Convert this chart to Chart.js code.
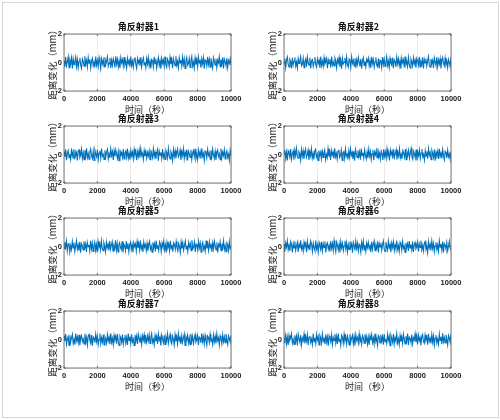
<!DOCTYPE html>
<html><head><meta charset="utf-8">
<script src="https://cdn.jsdelivr.net/npm/chart.js@4/dist/chart.umd.min.js"></script>
<style>
html,body{margin:0;padding:0;background:#fff;}
body{width:500px;height:420px;position:relative;overflow:hidden;}
canvas{position:absolute;}
#frame{position:absolute;left:2px;top:2px;width:495px;height:414px;border:1px solid #d6d6d6;}
</style></head>
<body><div id="frame"></div>
<script>
// ---- data ----
const seriesTitles = ['角反射器1','角反射器2','角反射器3','角反射器4','角反射器5','角反射器6','角反射器7','角反射器8'];
const xAxisTitle = '时间（秒）';
const yAxisTitle = '距离变化（mm）';
const xTickValues = [0,2000,4000,6000,8000,10000];
const yTickValues = [-2,0,2];
const durationSeconds = 10000;

const reflector1 = [0.12,-0.31,0.38,-0.22,0.05,0.41,-0.36,0.18,-0.08,0.33,-0.41,0.27,-0.15,0.02,0.39,-0.29,0.21,-0.37,0.09,0.31,-0.18,-0.42,0.25,0.07,-0.26,0.44,-0.12,0.16,-0.33,0.36,-0.05,0.22,-0.39,0.11,0.29,-0.24,0.03,-0.35,0.42,-0.19,0.14,-0.28,0.35,0.01,-0.43,0.26,-0.09,0.19,-0.32,0.37,-0.14,0.08,0.40,-0.27,-0.06,0.32,-0.38,0.17,-0.21,0.28,0.04,-0.34,0.43,-0.11,0.23,-0.30,0.13,-0.40,0.34,-0.02,0.20,-0.25,0.39,-0.16,0.06,-0.37,0.30,-0.07,0.15,-0.29,0.41,-0.20,0.10,-0.33,0.24,0.36,-0.13,-0.41,0.27,-0.04,0.18,-0.23,0.38,-0.31,0.09,0.33,-0.17,0.02,-0.36,0.29,-0.10,
  0.34,-0.26,0.08,-0.41,0.22,0.15,-0.32,0.40,-0.09,0.27,-0.38,0.03,0.36,-0.21,0.12,-0.44,0.30,-0.06,0.19,-0.28,0.41,-0.15,-0.35,0.24,0.06,-0.30,0.37,-0.11,0.20,-0.40,0.28,0.01,-0.23,0.43,-0.18,0.09,-0.36,0.32,-0.04,0.17,-0.27,0.39,-0.13,0.25,-0.42,0.11,0.35,-0.20,-0.07,0.29,-0.34,0.14,0.42,-0.24,0.05,-0.39,0.31,-0.16,0.21,-0.30,0.38,-0.02,0.13,-0.37,0.26,-0.10,0.33,-0.43,0.18,0.07,-0.25,0.40,-0.14,0.23,-0.33,0.30,-0.08,-0.40,0.35,0.10,-0.19,0.27,-0.36,0.16,-0.03,0.41,-0.29,0.20,-0.12,0.37,-0.41,0.24,0.04,-0.22,0.32,-0.35,0.13,-0.06,0.28,-0.18];
const reflector2 = [-0.08,0.27,-0.35,0.19,0.40,-0.14,-0.31,0.22,0.06,-0.42,0.33,-0.18,0.11,0.37,-0.26,0.04,-0.39,0.29,-0.07,0.16,0.43,-0.23,-0.12,0.31,-0.36,0.08,0.25,-0.30,0.38,-0.02,-0.19,0.34,-0.41,0.13,0.21,-0.28,0.02,0.39,-0.15,-0.33,0.26,-0.05,0.17,-0.38,0.42,-0.21,0.10,-0.27,0.35,-0.11,0.07,0.30,-0.40,0.18,-0.09,0.24,-0.34,0.41,-0.17,0.05,-0.25,0.32,0.12,-0.37,0.20,-0.03,0.36,-0.29,0.14,-0.43,0.28,-0.10,0.01,0.33,-0.22,0.39,-0.16,-0.32,0.23,0.09,-0.35,0.40,-0.06,0.15,-0.24,0.30,-0.39,0.19,-0.13,0.37,0.03,-0.28,0.26,-0.41,0.11,0.34,-0.20,0.08,-0.31,0.22,0.05,
  0.31,-0.24,0.13,-0.38,0.40,-0.07,0.22,-0.33,0.05,0.36,-0.19,-0.29,0.27,-0.42,0.16,0.09,-0.35,0.39,-0.13,0.24,-0.27,0.02,0.43,-0.21,0.11,-0.36,0.30,-0.05,-0.18,0.35,-0.40,0.19,0.07,-0.31,0.38,-0.10,0.26,-0.23,0.14,-0.43,0.32,-0.02,0.20,-0.34,0.41,-0.15,0.08,-0.28,0.37,-0.12,-0.39,0.23,0.04,-0.26,0.34,-0.09,0.17,-0.37,0.29,0.12,-0.20,0.40,-0.31,0.06,-0.14,0.36,-0.41,0.21,-0.04,0.28,-0.25,0.10,0.42,-0.17,-0.33,0.25,-0.08,0.15,-0.38,0.33,0.03,-0.22,0.39,-0.30,0.18,-0.11,0.27,-0.42,0.14,0.35,-0.06,-0.24,0.31,-0.16,0.09,-0.35,0.22,0.01,-0.28,0.37];
const reflector3 = [0.21,-0.17,0.36,-0.40,0.09,0.28,-0.23,0.02,-0.34,0.41,-0.11,0.19,-0.30,0.35,-0.06,0.14,-0.42,0.25,0.32,-0.20,-0.04,0.38,-0.27,0.12,-0.36,0.29,-0.13,0.44,-0.22,0.07,-0.33,0.18,0.39,-0.09,-0.28,0.23,-0.41,0.31,0.04,-0.16,0.34,-0.37,0.10,0.26,-0.25,0.42,-0.12,0.01,-0.35,0.30,-0.19,0.16,0.37,-0.31,0.06,-0.24,0.40,-0.08,0.20,-0.39,0.27,-0.14,0.33,0.03,-0.29,0.22,-0.43,0.35,-0.05,0.13,-0.21,0.38,-0.32,0.11,0.24,-0.18,0.41,-0.26,0.08,-0.37,0.29,-0.10,0.17,-0.30,0.36,-0.02,0.25,-0.40,0.19,-0.15,0.32,-0.23,0.43,-0.07,0.10,-0.34,0.28,-0.12,0.21,-0.27,0.15,
  -0.11,0.26,-0.37,0.33,0.02,-0.22,0.40,-0.15,0.18,-0.31,0.10,0.36,-0.43,0.24,-0.05,0.15,-0.28,0.39,-0.19,0.07,-0.35,0.29,0.13,-0.24,0.42,-0.09,-0.32,0.21,0.04,-0.40,0.34,-0.14,0.27,-0.26,0.11,0.38,-0.18,-0.03,0.31,-0.38,0.19,-0.08,0.41,-0.29,0.16,-0.12,0.35,-0.42,0.23,0.06,-0.21,0.33,-0.34,0.09,0.28,-0.16,0.40,-0.27,0.01,-0.37,0.30,-0.10,0.20,-0.30,0.44,-0.13,0.08,-0.41,0.25,0.17,-0.23,0.36,-0.06,0.12,-0.33,0.29,-0.19,0.39,-0.02,-0.28,0.22,-0.39,0.14,0.32,-0.15,0.05,-0.36,0.41,-0.24,0.18,-0.07,0.34,-0.31,0.11,0.26,-0.20,0.03,-0.42,0.30,-0.09];
const reflector4 = [0.05,0.33,-0.29,0.17,-0.41,0.26,0.10,-0.19,0.38,-0.33,0.02,0.24,-0.37,0.31,-0.08,0.42,-0.15,-0.26,0.20,0.07,-0.40,0.35,-0.12,0.27,-0.31,0.14,0.39,-0.21,-0.03,0.30,-0.38,0.19,-0.10,0.41,-0.25,0.08,-0.34,0.23,0.36,-0.17,0.04,-0.42,0.28,-0.07,0.15,-0.30,0.37,-0.20,0.11,0.32,-0.36,0.01,-0.24,0.40,-0.13,0.22,-0.39,0.29,-0.05,0.18,-0.27,0.43,-0.16,0.09,-0.33,0.25,0.34,-0.22,-0.08,0.31,-0.41,0.13,0.21,-0.28,0.38,-0.11,0.03,-0.35,0.27,-0.18,0.40,-0.06,0.16,-0.32,0.24,-0.43,0.35,0.06,-0.21,0.30,-0.14,0.19,-0.37,0.42,-0.09,0.12,-0.26,0.33,-0.02,-0.30,0.18,
  -0.25,0.38,-0.12,0.21,-0.36,0.06,0.33,-0.40,0.17,-0.03,0.29,-0.22,0.42,-0.17,0.10,-0.33,0.25,0.04,-0.38,0.36,-0.14,0.19,-0.27,0.40,-0.08,0.13,-0.42,0.31,-0.01,0.23,-0.29,0.37,-0.20,0.07,0.34,-0.35,0.15,-0.11,0.41,-0.24,0.02,-0.31,0.28,0.12,-0.19,0.39,-0.37,0.20,-0.06,0.30,-0.26,0.09,0.43,-0.15,-0.34,0.24,0.05,-0.23,0.35,-0.41,0.16,-0.09,0.32,-0.28,0.11,0.38,-0.18,0.01,-0.39,0.27,-0.12,0.22,-0.30,0.41,-0.05,0.14,-0.36,0.29,0.08,-0.21,0.34,-0.43,0.18,-0.02,0.26,-0.32,0.40,-0.13,0.10,-0.27,0.36,-0.08,-0.37,0.23,0.15,-0.25,0.31,-0.16,0.05,-0.34,0.21];
const reflector5 = [-0.14,0.30,-0.06,0.39,-0.32,0.15,0.24,-0.40,0.08,-0.21,0.36,-0.11,0.27,-0.35,0.03,0.42,-0.18,0.12,-0.29,0.33,-0.43,0.21,0.06,-0.24,0.37,-0.09,0.18,-0.38,0.29,-0.02,0.11,-0.31,0.40,-0.16,0.25,-0.34,0.07,0.32,-0.27,0.14,-0.41,0.35,-0.04,0.20,-0.23,0.41,-0.12,-0.30,0.26,0.01,-0.37,0.31,-0.08,0.16,-0.28,0.38,-0.19,0.10,0.34,-0.33,0.05,-0.15,0.43,-0.26,0.22,-0.39,0.13,0.28,-0.07,-0.22,0.36,-0.42,0.17,0.04,-0.30,0.39,-0.13,0.23,-0.36,0.09,0.30,-0.20,0.14,-0.40,0.27,-0.01,0.19,-0.32,0.35,-0.10,0.24,-0.25,0.41,-0.17,0.06,-0.38,0.31,-0.05,0.15,-0.28,0.22,
  -0.31,0.12,0.37,-0.19,0.03,-0.40,0.29,-0.08,0.20,-0.34,0.42,-0.14,0.09,-0.27,0.33,0.16,-0.36,0.24,-0.02,0.38,-0.23,0.11,-0.41,0.30,-0.06,0.18,-0.30,0.40,-0.12,0.05,-0.37,0.27,0.14,-0.21,0.35,-0.09,-0.32,0.22,0.01,-0.43,0.31,-0.15,0.26,-0.25,0.10,0.39,-0.18,0.06,-0.35,0.28,-0.04,0.21,-0.29,0.43,-0.16,-0.05,0.32,-0.38,0.17,0.08,-0.26,0.36,-0.11,0.23,-0.40,0.14,0.30,-0.20,0.02,-0.33,0.41,-0.13,0.19,-0.28,0.34,-0.07,0.12,-0.39,0.26,-0.17,0.37,0.04,-0.24,0.29,-0.42,0.15,-0.01,0.33,-0.30,0.20,-0.10,0.40,-0.22,0.07,-0.36,0.25,0.13,-0.27,0.35,-0.14,0.03];
const reflector6 = [0.18,-0.36,0.25,-0.04,0.40,-0.22,0.09,-0.31,0.34,0.13,-0.42,0.21,-0.10,0.37,-0.27,0.03,0.29,-0.38,0.16,-0.14,0.43,-0.19,0.06,-0.33,0.30,-0.01,0.22,-0.40,0.35,-0.12,0.10,-0.26,0.39,0.17,-0.35,0.24,-0.08,-0.29,0.41,-0.17,0.12,-0.39,0.28,0.02,-0.23,0.33,-0.31,0.19,-0.06,0.36,-0.42,0.14,0.26,-0.20,0.07,-0.34,0.38,-0.13,0.21,-0.28,0.42,-0.03,-0.37,0.31,0.11,-0.25,0.17,-0.41,0.34,-0.09,0.23,-0.30,0.05,0.40,-0.16,0.27,-0.38,0.12,-0.21,0.35,-0.05,0.19,-0.43,0.30,0.08,-0.27,0.37,-0.14,0.22,-0.32,0.16,0.01,-0.40,0.29,-0.11,0.39,-0.24,0.10,-0.35,0.25,-0.07,
  0.29,-0.15,0.05,-0.38,0.34,-0.21,0.17,0.40,-0.30,0.08,-0.12,0.36,-0.42,0.22,-0.03,0.27,-0.26,0.13,0.39,-0.18,-0.34,0.31,0.02,-0.24,0.38,-0.09,0.15,-0.40,0.25,-0.06,0.33,-0.29,0.11,-0.17,0.42,-0.20,0.07,-0.36,0.30,0.18,-0.27,0.35,-0.13,0.04,-0.41,0.26,-0.08,0.20,-0.32,0.39,-0.11,0.14,-0.25,0.37,-0.39,0.12,0.28,-0.16,-0.02,0.32,-0.35,0.19,-0.07,0.41,-0.23,0.09,-0.31,0.24,0.36,-0.19,0.01,-0.43,0.34,-0.10,0.16,-0.28,0.38,-0.14,0.23,-0.37,0.06,0.30,-0.22,0.11,-0.33,0.40,-0.05,0.18,-0.26,0.35,-0.41,0.21,0.10,-0.18,0.28,-0.30,0.03,0.37,-0.12,-0.24];
const reflector7 = [0.27,-0.12,0.39,-0.33,0.06,0.22,-0.41,0.30,-0.17,0.14,0.37,-0.28,0.01,-0.36,0.42,-0.09,0.19,-0.24,0.33,-0.40,0.11,0.28,-0.15,0.04,-0.32,0.40,-0.20,0.16,-0.38,0.25,0.35,-0.07,-0.27,0.31,-0.43,0.18,0.08,-0.22,0.38,-0.13,0.24,-0.35,0.02,0.41,-0.29,0.12,-0.18,0.34,-0.39,0.21,0.05,-0.26,0.36,-0.10,0.17,-0.33,0.43,-0.21,0.09,-0.37,0.29,-0.02,0.23,-0.30,0.39,-0.14,-0.41,0.26,0.13,-0.19,0.35,-0.34,0.07,0.31,-0.25,0.15,-0.39,0.41,-0.06,0.20,-0.28,0.37,-0.16,0.03,-0.42,0.32,-0.11,0.24,-0.31,0.38,0.10,-0.23,0.18,-0.36,0.27,-0.04,0.34,-0.29,0.12,-0.20,0.26,
  -0.09,0.35,-0.27,0.14,0.41,-0.19,0.02,-0.37,0.28,-0.12,0.22,-0.31,0.39,-0.05,0.16,-0.42,0.33,0.07,-0.23,0.30,-0.35,0.18,-0.08,0.40,-0.26,0.11,0.36,-0.16,-0.30,0.24,0.03,-0.39,0.34,-0.13,0.21,-0.28,0.42,-0.07,0.15,-0.33,0.27,-0.20,0.09,0.38,-0.41,0.19,-0.02,0.31,-0.25,0.13,-0.36,0.40,-0.11,0.23,-0.29,0.06,0.35,-0.18,-0.04,0.28,-0.38,0.17,0.10,-0.24,0.43,-0.14,0.20,-0.32,0.29,-0.06,-0.40,0.25,0.14,-0.21,0.37,-0.10,0.02,-0.35,0.32,-0.17,0.22,-0.27,0.41,-0.08,0.12,-0.39,0.26,0.05,-0.31,0.34,-0.15,0.19,-0.22,0.38,-0.03,-0.34,0.27,0.09,-0.19,0.30];
const reflector8 = [-0.22,0.09,0.35,-0.30,0.17,-0.39,0.28,-0.05,0.13,0.41,-0.26,0.02,-0.34,0.30,-0.14,0.23,-0.42,0.37,0.06,-0.19,0.32,-0.37,0.10,-0.08,0.39,-0.28,0.20,-0.12,0.34,-0.40,0.15,0.26,-0.21,0.04,-0.35,0.42,-0.16,0.11,-0.29,0.36,-0.03,0.21,-0.38,0.29,0.12,-0.25,0.40,-0.11,0.05,-0.32,0.35,-0.20,0.18,-0.43,0.27,0.08,-0.17,0.33,-0.36,0.14,-0.07,0.38,-0.24,0.22,-0.31,0.41,-0.13,0.03,-0.40,0.30,0.16,-0.27,0.37,-0.09,0.19,-0.33,0.24,-0.01,-0.38,0.36,-0.18,0.10,0.31,-0.29,0.20,-0.42,0.34,-0.06,0.15,-0.24,0.39,-0.15,0.07,-0.35,0.28,0.13,-0.26,0.37,-0.10,0.23,-0.32,
  0.16,-0.38,0.27,-0.04,0.35,-0.22,0.11,-0.31,0.40,-0.13,0.06,-0.41,0.29,0.18,-0.25,0.33,-0.09,0.21,-0.36,0.39,-0.16,0.02,-0.29,0.36,-0.06,0.24,-0.43,0.31,0.09,-0.20,0.38,-0.33,0.14,-0.10,0.42,-0.24,0.05,-0.37,0.28,-0.15,0.19,-0.27,0.37,0.01,-0.32,0.23,-0.11,0.41,-0.39,0.16,0.07,-0.21,0.34,-0.30,0.12,-0.05,0.39,-0.18,0.25,-0.35,0.30,-0.08,0.14,-0.42,0.22,0.36,-0.14,-0.26,0.32,-0.03,0.18,-0.37,0.40,-0.12,0.08,-0.28,0.35,-0.19,0.26,-0.40,0.10,0.31,-0.23,0.04,-0.34,0.38,-0.07,0.20,-0.31,0.43,-0.16,0.13,-0.25,0.33,-0.01,-0.38,0.29,0.11,-0.21,0.36];

const allSeries = [reflector1,reflector2,reflector3,reflector4,reflector5,reflector6,reflector7,reflector8];

// ---- layout (positions only) ----
const plotLefts = [64, 284];
const plotTops = [34, 126, 218, 311];
const plotW = 167, plotH = 57;
const yAxisW = 18, titleH = 18, xAxisH = 30, padRight = 20;
const lineColor = '#0072BD';
const cjk = '"Noto Sans CJK SC","Noto Sans",sans-serif';
const numFont = '"Liberation Sans",Arial,sans-serif';

const boxPlugin = {
  id: 'box',
  afterDatasetsDraw(chart) {
    const {ctx, chartArea: a, scales: {x, y}} = chart;
    ctx.save();
    ctx.strokeStyle = '#5a5a5a';
    ctx.lineWidth = 0.8;
    ctx.strokeRect(a.left, a.top, a.width, a.height);
    ctx.beginPath();
    x.ticks.forEach(t => {
      const px = x.getPixelForValue(t.value);
      ctx.moveTo(px, a.bottom); ctx.lineTo(px, a.bottom - 2);
      ctx.moveTo(px, a.top); ctx.lineTo(px, a.top + 2);
    });
    y.ticks.forEach(t => {
      const py = y.getPixelForValue(t.value);
      ctx.moveTo(a.left, py); ctx.lineTo(a.left + 2, py);
      ctx.moveTo(a.right, py); ctx.lineTo(a.right - 2, py);
    });
    ctx.stroke();
    ctx.restore();
  }
};

allSeries.forEach((values, idx) => {
  const col = idx % 2, row = Math.floor(idx / 2);
  const cv = document.createElement('canvas');
  const W = yAxisW + plotW + padRight, H = titleH + plotH + xAxisH;
  cv.width = W; cv.height = H;
  cv.style.width = W + 'px'; cv.style.height = H + 'px';
  cv.style.left = (plotLefts[col] - yAxisW) + 'px';
  cv.style.top = (plotTops[row] - titleH) + 'px';
  document.body.appendChild(cv);
  const step = durationSeconds / (values.length - 1);
  const pts = values.map((v, i) => ({x: i * step, y: v}));
  new Chart(cv, {
    type: 'line',
    data: {datasets: [{data: pts, borderColor: lineColor, borderWidth: 1.1, pointRadius: 0, tension: 0, fill: false}]},
    options: {
      responsive: false, animation: false, events: [],
      layout: {padding: {left: 0, right: padRight, top: 0, bottom: 0}},
      plugins: {
        legend: {display: false}, tooltip: {enabled: false},
        title: {display: true, text: seriesTitles[idx], color: '#111',
          font: {family: cjk, size: 9, weight: 'bold', lineHeight: 1},
          padding: {top: 6, bottom: 3}}
      },
      scales: {
        x: {
          type: 'linear', min: 0, max: durationSeconds,
          afterBuildTicks: s => { s.ticks = xTickValues.map(v => ({value: v})); },
          afterFit: s => { s.height = xAxisH; },
          ticks: {color: '#222', padding: 3, maxRotation: 0, autoSkip: false,
            font: {family: numFont, size: 7.5, weight: 'bold'}, callback: v => String(v)},
          grid: {color: '#e4e4e4', lineWidth: 0.8, drawTicks: false},
          border: {display: false},
          title: {display: true, text: xAxisTitle, color: '#222',
            font: {family: cjk, size: 9, lineHeight: 1.2}, padding: {top: 0, bottom: 6.4}}
        },
        y: {
          min: -2, max: 2,
          afterBuildTicks: s => { s.ticks = yTickValues.map(v => ({value: v})); },
          afterFit: s => { s.width = yAxisW; },
          ticks: {color: '#222', padding: 2, font: {family: numFont, size: 7.5, weight: 'bold'}, callback: v => String(v)},
          grid: {color: '#e4e4e4', lineWidth: 0.8, drawTicks: false},
          border: {display: false},
          title: {display: true, text: yAxisTitle, color: '#222',
            font: {family: cjk, size: 9.5, lineHeight: 1.2}, padding: {top: 0.8, bottom: 0}}
        }
      }
    },
    plugins: [boxPlugin]
  });
});
</script>
</body></html>
